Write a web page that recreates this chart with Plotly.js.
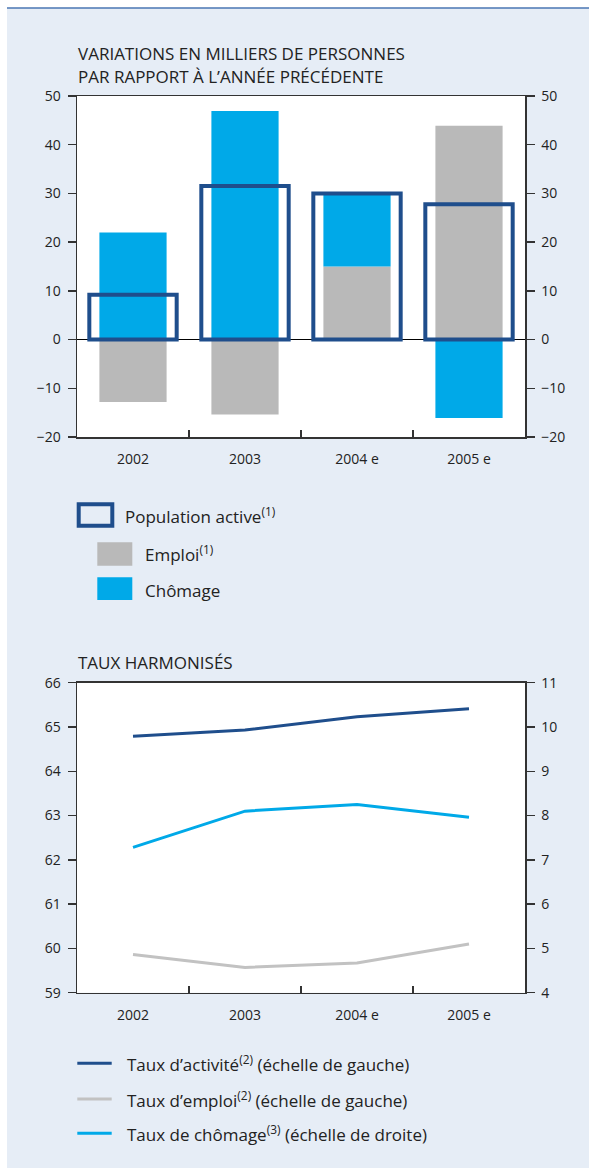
<!DOCTYPE html>
<html>
<head>
<meta charset="utf-8">
<script src="https://cdn.plot.ly/plotly-3.0.1.min.js"></script>
<style>
  html, body { margin: 0; padding: 0; background: #ffffff; }
  #chart { width: 589px; height: 1169px; }
</style>
</head>
<body>
<div id="chart"></div>
<script>
// Categories shared by both panels
const years = ['2002', '2003', '2004 e', '2005 e'];

// Upper panel: year-on-year changes, thousands of persons
const populationActive = [9.2, 31.5, 30.0, 27.8];
const emploi = [-12.8, -15.4, 15.0, 43.9];
const chomage = [22.0, 46.9, 15.0, -16.1];

// Lower panel: harmonised rates (%)
const tauxActivite = [64.79, 64.93, 65.23, 65.41];
const tauxEmploi = [59.86, 59.57, 59.67, 60.10];
const tauxChomage = [7.28, 8.10, 8.25, 7.96];

// Palette
const DARK_BLUE = '#1f4e8c';
const SKY_BLUE = '#00a9e8';
const GREY = '#b9b9b9';
const LINE_GREY = '#c2c2c2';
const PANEL = '#e6edf6';
const AXIS = '#333333';
const TEXT = '#222222';

const W = 589, H = 1169;
const px = x => x / W;
const py = y => 1 - y / H;

const FONT = '"Open Sans", "DejaVu Sans", sans-serif';
const tickFont = { family: FONT, size: 14, color: TEXT };
const labelFont = { family: FONT, size: 17, color: TEXT };

const traces = [
  { type: 'bar', x: years, y: emploi, name: 'Emploi', xaxis: 'x', yaxis: 'y',
    width: 0.6, marker: { color: GREY, line: { width: 0 } }, showlegend: false },
  { type: 'bar', x: years, y: chomage, name: 'Chômage', xaxis: 'x', yaxis: 'y',
    width: 0.6, marker: { color: SKY_BLUE, line: { width: 0 } }, showlegend: false },
  { type: 'bar', x: years, y: populationActive, name: 'Population active', xaxis: 'x', yaxis: 'y2',
    width: 0.78, marker: { color: 'rgba(0,0,0,0)', line: { color: DARK_BLUE, width: 4 } }, showlegend: false },

  { type: 'scatter', mode: 'lines', x: years, y: tauxActivite, xaxis: 'x2', yaxis: 'y3',
    line: { color: DARK_BLUE, width: 3 }, showlegend: false },
  { type: 'scatter', mode: 'lines', x: years, y: tauxEmploi, xaxis: 'x2', yaxis: 'y3',
    line: { color: LINE_GREY, width: 3 }, showlegend: false },
  { type: 'scatter', mode: 'lines', x: years, y: tauxChomage, xaxis: 'x2', yaxis: 'y4',
    line: { color: SKY_BLUE, width: 3 }, showlegend: false }
];

const xCommon = {
  type: 'category', categoryorder: 'array', categoryarray: years,
  range: [-0.5, years.length - 0.5],
  domain: [px(77), px(525)],
  ticks: 'inside', tickson: 'boundaries', ticklen: 7, tickwidth: 1.5, tickcolor: AXIS,
  showline: true, linecolor: AXIS, linewidth: 1.5, mirror: true,
  showgrid: false, zeroline: false, tickfont: tickFont, ticklabelstandoff: 9,
  fixedrange: true
};
const yCommon = {
  ticks: 'outside', ticklen: 8, tickwidth: 1.5, tickcolor: AXIS,
  showline: true, linecolor: AXIS, linewidth: 1.5,
  showgrid: false, tickfont: tickFont, ticklabelstandoff: 4, fixedrange: true
};

const layout = {
  width: W, height: H,
  margin: { l: 0, r: 0, t: 0, b: 0 },
  paper_bgcolor: PANEL, plot_bgcolor: '#ffffff',
  barmode: 'relative',
  showlegend: false,
  font: { family: FONT, color: TEXT },
  xaxis: Object.assign({}, xCommon, { anchor: 'y' }),
  yaxis: Object.assign({}, yCommon, {
    domain: [py(437), py(96)], range: [-20, 50], dtick: 10, mirror: true,
    zeroline: true, zerolinecolor: '#000000', zerolinewidth: 1.2
  }),
  yaxis2: Object.assign({}, yCommon, {
    overlaying: 'y', side: 'right', anchor: 'x', range: [-20, 50], dtick: 10, zeroline: false
  }),
  xaxis2: Object.assign({}, xCommon, { anchor: 'y3' }),
  yaxis3: Object.assign({}, yCommon, {
    domain: [py(992.7), py(682.7)], range: [59, 66], dtick: 1, mirror: true, zeroline: false, anchor: 'x2'
  }),
  yaxis4: Object.assign({}, yCommon, {
    overlaying: 'y3', side: 'right', anchor: 'x2', range: [4, 11], dtick: 1, zeroline: false
  }),
  shapes: [
    // white margins around the panel and its top rule
    { type: 'rect', xref: 'paper', yref: 'paper', x0: 0, x1: 1, y0: py(0), y1: py(8), fillcolor: '#ffffff', line: { width: 0 } },
    { type: 'rect', xref: 'paper', yref: 'paper', x0: 0, x1: px(7), y0: 0, y1: 1, fillcolor: '#ffffff', line: { width: 0 } },
    { type: 'rect', xref: 'paper', yref: 'paper', x0: 0, x1: 1, y0: 0, y1: py(1168), fillcolor: '#ffffff', line: { width: 0 } },
    { type: 'line', xref: 'paper', yref: 'paper', x0: px(7), x1: 1, y0: py(8), y1: py(8), line: { color: '#4a76b3', width: 1.5 } },

    // upper legend swatches
    { type: 'rect', xref: 'paper', yref: 'paper', x0: px(78.7), x1: px(112.3), y0: py(525.7), y1: py(504.3),
      fillcolor: 'rgba(0,0,0,0)', line: { color: DARK_BLUE, width: 4 } },
    { type: 'rect', xref: 'paper', yref: 'paper', x0: px(97.3), x1: px(132.3), y0: py(565.7), y1: py(542.3),
      fillcolor: GREY, line: { width: 0 } },
    { type: 'rect', xref: 'paper', yref: 'paper', x0: px(97.3), x1: px(132.3), y0: py(600), y1: py(577.3),
      fillcolor: SKY_BLUE, line: { width: 0 } },

    // lower legend swatches
    { type: 'line', xref: 'paper', yref: 'paper', x0: px(77.3), x1: px(111.7), y0: py(1063.3), y1: py(1063.3),
      line: { color: DARK_BLUE, width: 3 } },
    { type: 'line', xref: 'paper', yref: 'paper', x0: px(77.3), x1: px(111.7), y0: py(1099), y1: py(1099),
      line: { color: LINE_GREY, width: 3 } },
    { type: 'line', xref: 'paper', yref: 'paper', x0: px(77.3), x1: px(111.7), y0: py(1133.3), y1: py(1133.3),
      line: { color: SKY_BLUE, width: 3 } }
  ],
  annotations: [
    { text: 'VARIATIONS EN MILLIERS DE PERSONNES', x: px(76), y: py(53), xanchor: 'left', yanchor: 'middle' },
    { text: 'PAR RAPPORT À L’ANNÉE PRÉCÉDENTE', x: px(76), y: py(77), xanchor: 'left', yanchor: 'middle' },
    { text: 'TAUX HARMONISÉS', x: px(76), y: py(662), xanchor: 'left', yanchor: 'middle' },

    { text: 'Population active<sup>(1)</sup>', x: px(123), y: py(515), xanchor: 'left', yanchor: 'middle' },
    { text: 'Emploi<sup>(1)</sup>', x: px(142.5), y: py(554), xanchor: 'left', yanchor: 'middle' },
    { text: 'Chômage', x: px(142.5), y: py(590), xanchor: 'left', yanchor: 'middle' },

    { text: 'Taux d’activité<sup>(2)</sup> (échelle de gauche)', x: px(125), y: py(1063), xanchor: 'left', yanchor: 'middle' },
    { text: 'Taux d’emploi<sup>(2)</sup> (échelle de gauche)', x: px(125), y: py(1099), xanchor: 'left', yanchor: 'middle' },
    { text: 'Taux de chômage<sup>(3)</sup> (échelle de droite)', x: px(125), y: py(1133), xanchor: 'left', yanchor: 'middle' }
  ].map(a => Object.assign({ xref: 'paper', yref: 'paper', showarrow: false, font: labelFont }, a))
};

Plotly.newPlot('chart', traces, layout, { displayModeBar: false, staticPlot: true });
</script>
</body>
</html>
